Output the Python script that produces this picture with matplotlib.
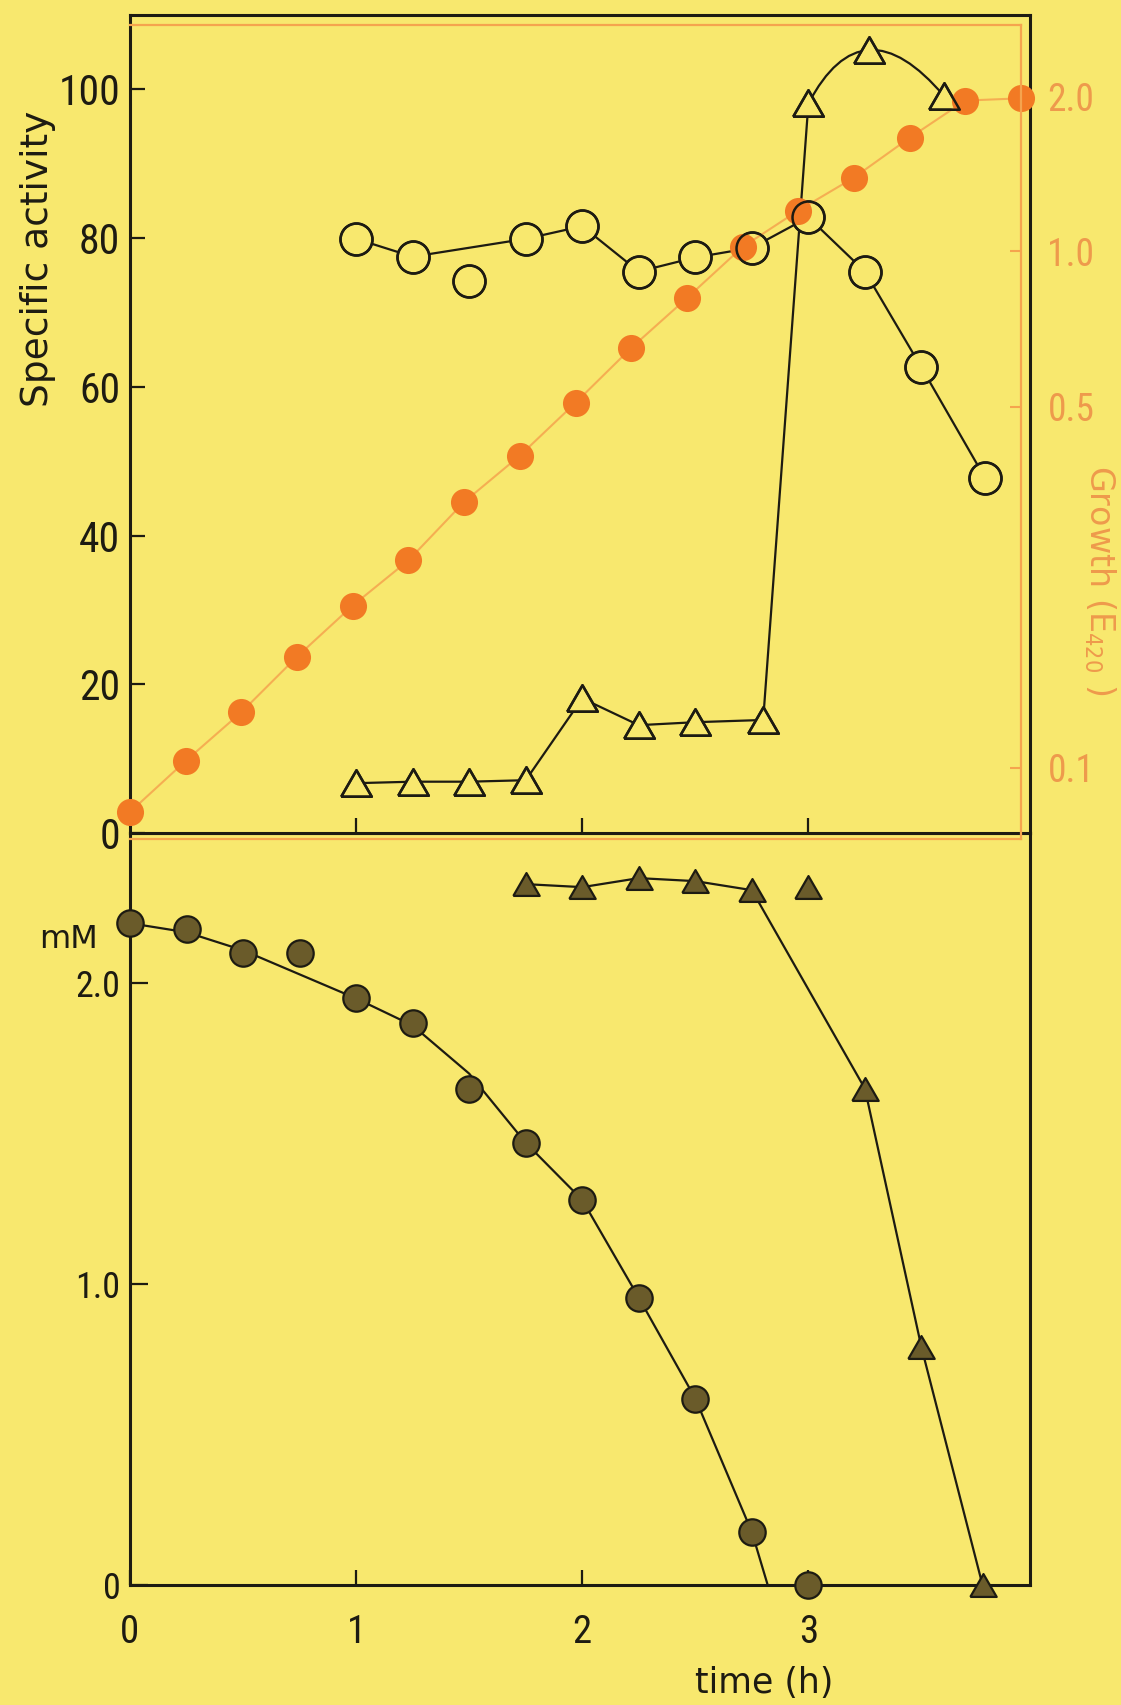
import matplotlib
matplotlib.use("Agg")
import matplotlib.pyplot as plt
from matplotlib.path import Path
from matplotlib.patches import PathPatch
from matplotlib.ticker import NullLocator

# ---------------- data ----------------
# Growth (E420), orange, log axis
growth_time = [0, 0.25, 0.5, 0.75, 1.0, 1.25, 1.5, 1.75, 2.0, 2.25, 2.5, 2.75,
               3.0, 3.25, 3.5, 3.75, 4.0]
growth_e420 = [0.082, 0.103, 0.128, 0.164, 0.206, 0.252, 0.327, 0.402, 0.509,
               0.650, 0.812, 1.02, 1.20, 1.39, 1.66, 1.96, 1.98]

# Specific activity, open circles
circ_time = [1.0, 1.25, 1.5, 1.75, 2.0, 2.25, 2.5, 2.75, 3.0, 3.25, 3.5, 3.78]
circ_act = [79.9, 77.5, 74.2, 79.9, 81.6, 75.5, 77.4, 78.7, 82.8, 75.5, 62.6, 47.8]
circ_joined = [True, True, False, True, True, True, True, True, True, True, True, True]

# Specific activity, open triangles
tri_time = [1.0, 1.25, 1.5, 1.75, 2.0, 2.25, 2.5, 2.8, 3.0, 3.27, 3.6]
tri_act = [6.7, 6.9, 6.9, 7.1, 18.1, 14.5, 14.9, 15.2, 98.1, 105.3, 99.1]

# Concentration (mM), filled circles and the curve drawn through them
fcirc_time = [0, 0.25, 0.5, 0.75, 1.0, 1.25, 1.5, 1.75, 2.0, 2.25, 2.5, 2.75, 3.0]
fcirc_mM = [2.20, 2.18, 2.10, 2.10, 1.95, 1.87, 1.65, 1.47, 1.28, 0.955, 0.62, 0.176, 0.0]
fcirc_curve_time = [0, 0.25, 0.5, 0.75, 1.0, 1.25, 1.5, 1.75, 2.0, 2.25, 2.5, 2.75, 2.82]
fcirc_curve_mM = [2.20, 2.17, 2.11, 2.03, 1.95, 1.86, 1.70, 1.47, 1.28, 0.955, 0.62, 0.176, 0.0]

# Concentration (mM), filled triangles and the curve drawn through them
ftri_time = [1.75, 2.0, 2.25, 2.5, 2.75, 3.0, 3.25, 3.5, 3.77]
ftri_mM = [2.33, 2.32, 2.35, 2.34, 2.31, 2.32, 1.65, 0.79, 0.0]
ftri_curve_time = [1.75, 2.0, 2.25, 2.5, 2.75, 3.25, 3.5, 3.77]
ftri_curve_mM = [2.33, 2.32, 2.35, 2.34, 2.31, 1.65, 0.79, 0.0]

act_ticks = [0, 20, 40, 60, 80, 100]
growth_ticks = [0.1, 0.5, 1.0, 2.0]
growth_ticklabels = ["0.1", "0.5", "1.0", "2.0"]
mM_ticks = [0, 1.0, 2.0]
mM_ticklabels = ["0", "1.0", "2.0"]
time_ticks = [0, 1, 2, 3]
time_ticklabels = ["0", "1", "2", "3"]

# ---------------- style ----------------
BG = "#f8e86e"
INK = "#1d1b12"
ORANGE = "#f27a24"
ORANGE_LINE = "#f5a44e"
ORANGE_TEXT = "#ee9a4c"
DARK_FILL = "#6a5b2a"

NUM_FONT = ["Liberation Sans Narrow", "Roboto Condensed", "DejaVu Sans Condensed",
            "Open Sans Condensed", "DejaVu Sans"]
LAB_FONT = ["DejaVu Sans"]
plt.rcParams["font.family"] = NUM_FONT
plt.rcParams["font.stretch"] = "condensed"

W, H = 1121, 1705
fig = plt.figure(figsize=(W / 100, H / 100), dpi=100, facecolor=BG)


def rect(l, r, t, b):
    return [l / W, 1 - b / H, (r - l) / W, (b - t) / H]


ax_top = fig.add_axes(rect(130, 1030, 15, 833))
ax_or = fig.add_axes(rect(130, 1021, 25, 839))
ax_ov = fig.add_axes(rect(130, 1030, 15, 833))
ax_bot = fig.add_axes(rect(130, 1030, 833, 1585))

ax_top.set_zorder(1)
ax_or.set_zorder(2)
ax_ov.set_zorder(3)
ax_or.patch.set_visible(False)
ax_ov.patch.set_visible(False)
ax_top.set_facecolor(BG)
ax_bot.set_facecolor(BG)

XMAX = 3.98
for a in (ax_top, ax_ov, ax_bot):
    a.set_xlim(0, XMAX)
ax_top.set_ylim(0, 110)
ax_ov.set_ylim(0, 110)
ax_bot.set_ylim(0, 2.5)
ax_ov.axis("off")

for a in (ax_top, ax_bot):
    for s in a.spines.values():
        s.set_color(INK)
        s.set_linewidth(2.2)
    a.tick_params(direction="in", length=11, width=1.6, color=INK, labelcolor=INK)

# ---- top panel: specific activity ----
ax_top.set_yticks(act_ticks)
ax_top.set_yticklabels([str(v) for v in act_ticks], fontsize=30)
ax_top.tick_params(axis="y", pad=7)
ax_top.set_xticks(time_ticks[1:])
ax_top.tick_params(axis="x", labelbottom=False)

# circles: line through joined points
jx = [t for t, j in zip(circ_time, circ_joined) if j]
jy = [v for v, j in zip(circ_act, circ_joined) if j]
ax_top.plot(jx, jy, color=INK, lw=1.6, zorder=2, solid_capstyle="butt")
ax_top.plot(circ_time, circ_act, ls="none", marker="o", ms=23, mfc=BG, mec=INK,
            mew=1.8, zorder=3)

# triangles: straight segments up to 3.0 h then an arc through the last three
tri = [(-1, -0.866), (1, -0.866), (0, 0.866), (-1, -0.866)]
ax_top.plot(tri_time[:9], tri_act[:9], color=INK, lw=1.6, zorder=2)
p0 = (tri_time[8], tri_act[8])
pm = (tri_time[9], tri_act[9])
p2 = (tri_time[10], tri_act[10])
ctrl = (2 * pm[0] - 0.5 * (p0[0] + p2[0]), 2 * pm[1] - 0.5 * (p0[1] + p2[1]))
arc = Path([p0, ctrl, p2], [Path.MOVETO, Path.CURVE3, Path.CURVE3])
ax_top.add_patch(PathPatch(arc, fc="none", ec=INK, lw=1.6, zorder=2))
ax_top.plot(tri_time, tri_act, ls="none", marker=tri, ms=22, mfc=BG, mec=INK,
            mew=1.8, zorder=3, clip_on=False)

# overlay outlines (over the orange dots)
ax_ov.plot(circ_time, circ_act, ls="none", marker="o", ms=23, mfc="none", mec=INK,
           mew=1.8, clip_on=False)
ax_ov.plot(tri_time, tri_act, ls="none", marker=tri, ms=22, mfc="none", mec=INK,
           mew=1.8, clip_on=False)

# ---- orange growth axis ----
ax_or.set_yscale("log")
ax_or.set_xlim(0, 4.0)
ax_or.set_ylim(0.0727, 2.746)
ax_or.plot(growth_time, growth_e420, color=ORANGE_LINE, lw=1.5, alpha=0.85,
           zorder=1, clip_on=False)
ax_or.plot(growth_time, growth_e420, ls="none", marker="o", ms=19.5, mfc=ORANGE,
           mec="none", zorder=2, clip_on=False)
ax_or.spines["left"].set_visible(False)
for k in ("top", "right", "bottom"):
    ax_or.spines[k].set_color(ORANGE_LINE)
    ax_or.spines[k].set_linewidth(1.6)
ax_or.set_xticks([])
ax_or.yaxis.set_ticks_position("right")
ax_or.yaxis.set_label_position("right")
ax_or.set_yticks(growth_ticks)
ax_or.set_yticklabels(growth_ticklabels, fontsize=27)
ax_or.yaxis.set_minor_locator(NullLocator())
ax_or.tick_params(axis="y", direction="in", length=8, width=1.5, color=ORANGE_LINE,
                  labelcolor=ORANGE_TEXT, pad=19)

# ---- bottom panel: mM ----
ax_bot.set_yticks(mM_ticks)
ax_bot.set_yticklabels(mM_ticklabels, fontsize=26)
ax_bot.tick_params(axis="y", pad=7, length=13)
ax_bot.set_xticks(time_ticks)
ax_bot.set_xticklabels(time_ticklabels, fontsize=28)
ax_bot.tick_params(axis="x", pad=21)

ax_bot.plot(fcirc_curve_time, fcirc_curve_mM, color=INK, lw=1.6, zorder=2)
ax_bot.plot(fcirc_time, fcirc_mM, ls="none", marker="o", ms=19, mfc=DARK_FILL,
            mec=INK, mew=1.6, zorder=3, clip_on=False)
ax_bot.plot(ftri_curve_time, ftri_curve_mM, color=INK, lw=1.6, zorder=2)
ax_bot.plot(ftri_time, ftri_mM, ls="none", marker=tri, ms=19, mfc=DARK_FILL,
            mec=INK, mew=1.6, zorder=3, clip_on=False)

# ---- text labels ----
fig.text(38 / W, 1 - 259 / H, "Specific activity", rotation=90, fontsize=27,
         color=INK, ha="center", va="center", family=LAB_FONT, stretch="normal")
fig.text(1100 / W, 1 - 580 / H, "Growth (E$_{420}$ )", rotation=-90, fontsize=24,
         color=ORANGE_TEXT, ha="center", va="center", family=LAB_FONT, stretch="normal")
fig.text(68 / W, 1 - 940 / H, "mM", fontsize=23, color=INK, ha="center",
         va="center", family=LAB_FONT, stretch="normal")
fig.text(764 / W, 1 - 1683 / H, "time (h)", fontsize=25, color=INK, ha="center",
         va="center", family=LAB_FONT, stretch="normal")

fig.savefig("out.png", dpi=100, facecolor=BG)
